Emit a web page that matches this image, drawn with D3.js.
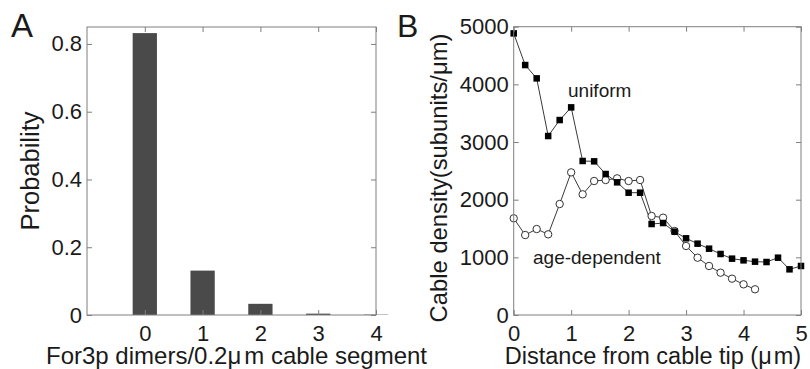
<!DOCTYPE html>
<html><head><meta charset="utf-8">
<script src="https://cdn.jsdelivr.net/npm/d3@7"></script>
<style>
html,body{margin:0;padding:0;background:#fff;}
svg{display:block;font-family:"Liberation Sans",Arial,Helvetica,sans-serif;}
</style></head>
<body>
<svg id="chart" width="810" height="369"></svg>
<script>
// ---- Panel A data ----
const dimerCounts = [0, 1, 2, 3, 4];
const probability = [0.832, 0.131, 0.033, 0.004, 0.001];
const probTicks = [0, 0.2, 0.4, 0.6, 0.8];
const countTicks = [0, 1, 2, 3, 4];

// ---- Panel B data ----
const uniformX = [0,0.2,0.4,0.6,0.8,1.0,1.2,1.4,1.6,1.8,2.0,2.2,2.4,2.6,2.8,3.0,3.2,3.4,3.6,3.8,4.0,4.2,4.4,4.6,4.8,5.0];
const uniformY = [4884,4335,4104,3104,3381,3601,2671,2665,2445,2301,2121,2121,1578,1595,1445,1330,1237,1150,1058,977,948,925,919,994,792,850];
const ageX = [0,0.2,0.4,0.6,0.8,1.0,1.2,1.4,1.6,1.8,2.0,2.2,2.4,2.6,2.8,3.0,3.2,3.4,3.6,3.8,4.0,4.2];
const ageY = [1677,1387,1491,1399,1925,2474,2093,2324,2341,2370,2324,2341,1717,1688,1457,1197,994,850,734,630,532,446];
const distTicks = [0,1,2,3,4,5];
const densTicks = [0,1000,2000,3000,4000,5000];

const svg = d3.select("#chart");
const axisColor = "#7f7f7f";
const textColor = "#1a1a1a";
const tickLen = 5;

function frame(g, x, y, xt, yt, xfmt, yfmt) {
  const [x0, x1] = x.range();
  const [y0, y1] = y.range(); // y0 bottom, y1 top
  g.append("rect").attr("x", x0).attr("y", y1).attr("width", x1 - x0).attr("height", y0 - y1)
    .attr("fill", "none").attr("stroke", axisColor).attr("stroke-width", 1);
  const bx = g.append("g").attr("transform", `translate(0,${y0})`)
    .call(d3.axisBottom(x).tickValues(xt).tickSize(-tickLen).tickPadding(10).tickFormat(xfmt));
  const tx = g.append("g").attr("transform", `translate(0,${y1})`)
    .call(d3.axisTop(x).tickValues(xt).tickSize(-tickLen).tickFormat(""));
  const ly = g.append("g").attr("transform", `translate(${x0},0)`)
    .call(d3.axisLeft(y).tickValues(yt).tickSize(-tickLen).tickPadding(5).tickFormat(yfmt));
  const ry = g.append("g").attr("transform", `translate(${x1},0)`)
    .call(d3.axisRight(y).tickValues(yt).tickSize(-tickLen).tickFormat(""));
  [bx, tx, ly, ry].forEach(a => {
    a.select(".domain").remove();
    a.selectAll(".tick line").attr("stroke", axisColor);
    a.selectAll(".tick text").attr("fill", textColor).style("font-size", "22px");
  });
  return {bx, ly};
}

// ---------- Panel A ----------
const gA = svg.append("g");
const xA = d3.scaleLinear().domain([-1, 4]).range([87, 376]);
const yA = d3.scaleLinear().domain([0, 0.85]).range([315, 27]);
const barW = 0.42;
gA.selectAll("rect.bar").data(dimerCounts).enter().append("rect")
  .attr("class", "bar")
  .attr("x", (d) => xA(d - barW / 2))
  .attr("width", (d) => xA(barW) - xA(0))
  .attr("y", (d, i) => yA(probability[i]))
  .attr("height", (d, i) => yA(0) - yA(probability[i]))
  .attr("fill", "#4a4a4a");
frame(gA, xA, yA, countTicks, probTicks, d3.format("d"), d => d === 0 ? "0" : d3.format(".1f")(d));
gA.append("text").attr("x", 236.5).attr("y", 364).attr("text-anchor", "middle")
  .attr("fill", textColor).style("font-size", "24px")
  .html('For3p dimers/0.2μ<tspan dx="3">m</tspan> cable segment');
gA.append("text").attr("transform", "translate(39,171) rotate(-90)").attr("text-anchor", "middle")
  .attr("fill", textColor).style("font-size", "25.5px").text("Probability");
gA.append("text").attr("x", 11).attr("y", 37).attr("fill", textColor).style("font-size", "33px").text("A");

// ---------- Panel B ----------
const gB = svg.append("g");
const xB = d3.scaleLinear().domain([0, 5]).range([513.7, 801]);
const yB = d3.scaleLinear().domain([0, 5000]).range([315, 26.7]);
const lineColor = "#3a3a3a";
const line = d3.line().x(d => xB(d[0])).y(d => yB(d[1]));
const uni = uniformX.map((x, i) => [x, uniformY[i]]);
const age = ageX.map((x, i) => [x, ageY[i]]);
gB.append("path").datum(age).attr("d", line).attr("fill", "none").attr("stroke", lineColor).attr("stroke-width", 1);
gB.append("path").datum(uni).attr("d", line).attr("fill", "none").attr("stroke", lineColor).attr("stroke-width", 1);
gB.selectAll("circle.age").data(age).enter().append("circle").attr("class", "age")
  .attr("cx", d => xB(d[0])).attr("cy", d => yB(d[1])).attr("r", 3.7)
  .attr("fill", "#fff").attr("stroke", "#333").attr("stroke-width", 1);
const sq = 6.5;
gB.selectAll("rect.uni").data(uni).enter().append("rect").attr("class", "uni")
  .attr("x", d => xB(d[0]) - sq / 2).attr("y", d => yB(d[1]) - sq / 2)
  .attr("width", sq).attr("height", sq).attr("fill", "#000");
frame(gB, xB, yB, distTicks, densTicks, d3.format("d"), d3.format("d"));
gB.append("text").attr("x", 653).attr("y", 364).attr("text-anchor", "middle")
  .attr("fill", textColor).style("font-size", "23.5px")
  .html('Distance from cable tip (μ<tspan dx="2">m)</tspan>');
gB.append("text").attr("transform", "translate(447,178) rotate(-90)").attr("text-anchor", "middle")
  .attr("fill", textColor).style("font-size", "23.8px").text("Cable density(subunits/μm)");
gB.append("text").attr("x", 397).attr("y", 37).attr("fill", textColor).style("font-size", "32px").text("B");
gB.append("text").attr("x", 568).attr("y", 97).attr("fill", textColor).style("font-size", "19px").text("uniform");
gB.append("text").attr("x", 533).attr("y", 264).attr("fill", textColor).style("font-size", "19px").text("age-dependent");
</script>
</body></html>
